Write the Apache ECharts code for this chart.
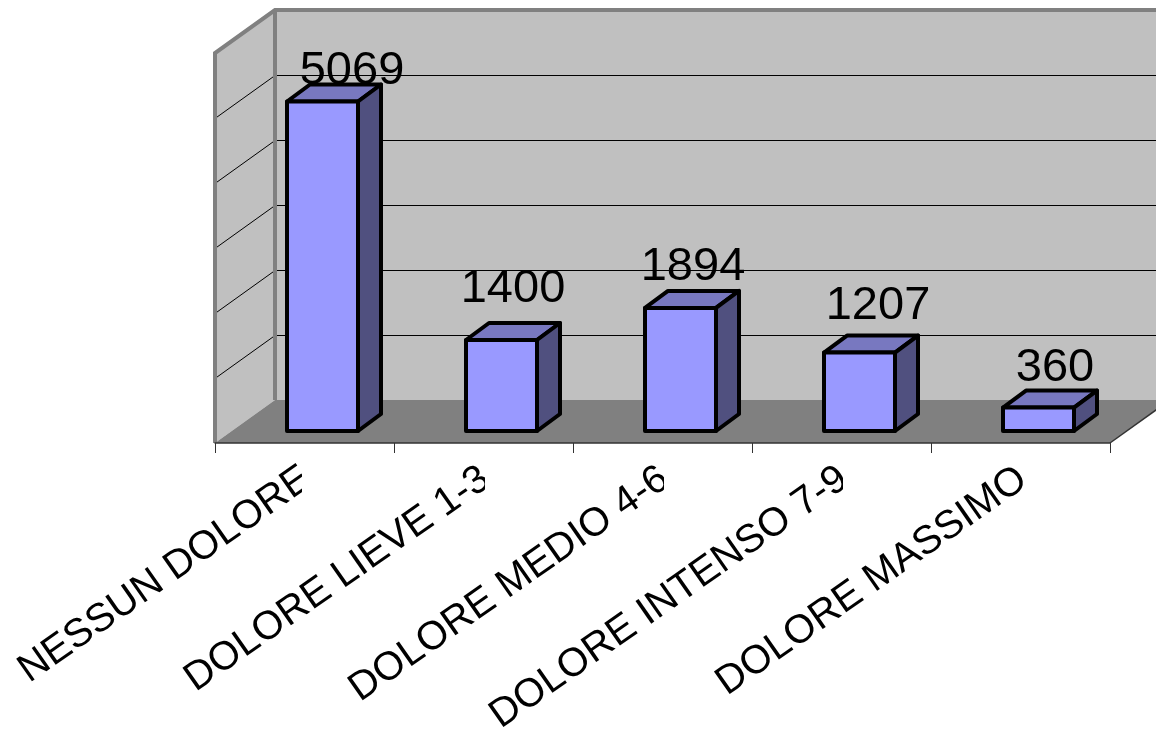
<!DOCTYPE html>
<html><head><meta charset="utf-8">
<style>html,body{margin:0;padding:0;background:#fff}#c{width:1156px;height:731px}</style>
<script src="https://cdn.jsdelivr.net/npm/echarts@6/dist/echarts.min.js"></script>
</head><body><div id="c"></div>
<script>
const categories = ['NESSUN DOLORE','DOLORE LIEVE 1-3','DOLORE MEDIO 4-6','DOLORE INTENSO 7-9','DOLORE MASSIMO'];
const values = [5069,1400,1894,1207,360];
const gridTicks = [1000,2000,3000,4000,5000];
const axisMax = 6000;
// styling constants
const DX = 60, DY = -43;          // plot depth
const BDX = 23, BDY = -17;        // bar depth
const FX = 18, FY = -12;          // bar front-plane offset
const BAR_W = 71;
const labelNudge = [[18,-13],[0,-34],[1,-24],[7,-29],[5,-23]];
const clipOffset = [-2.5,1.5,1.5,1.5,null];   // where the reference cuts the ends of the tick labels

const chart = echarts.init(document.getElementById('c'), null, {renderer:'canvas'});
const poly = (pts, fill, stroke, lw) => ({type:'polygon', shape:{points:pts},
  style:{fill:fill, stroke:stroke||null, lineWidth:lw||0, lineJoin:'round'}});
const line = (a,b,color,w) => ({type:'line', shape:{x1:a[0],y1:a[1],x2:b[0],y2:b[1]}, style:{stroke:color,lineWidth:w}});

function renderWalls(params, api){
  const band = api.size([1,0])[0];
  const c0 = api.coord([0,0]), c1 = api.coord([categories.length-1,0]), top = api.coord([0,axisMax]);
  const L = c0[0]-band/2, R = c1[0]+band/2, B = c0[1], T = top[1];
  const ch = [];
  ch.push(poly([[L+DX,T+DY],[R+DX,T+DY],[R+DX,B+DY],[L+DX,B+DY]],'#C0C0C0'));
  ch.push(poly([[L,T],[L+DX,T+DY],[L+DX,B+DY],[L,B]],'#C0C0C0'));
  gridTicks.forEach(v=>{
    const y = Math.round(api.coord([0,v])[1]) + 0.5;
    ch.push(line([L,y],[L+DX,y+DY],'#000',1));
    ch.push(line([L+DX,y+DY],[R+DX,y+DY],'#000',1));
  });
  ch.push(poly([[L,B],[L+DX,B+DY],[R+DX,B+DY],[R,B]],'#808080'));
  ch.push(line([R,B],[R+DX,B+DY],'#333',1.5));
  ch.push({type:'polyline',shape:{points:[[L,B],[L,T],[L+DX,T+DY],[R+DX,T+DY]]},style:{fill:null,stroke:'#808080',lineWidth:4}});
  ch.push(line([L+DX,T+DY],[L+DX,B+DY],'#808080',4));
  return {type:'group',children:ch};
}
function renderBar(params, api){
  const i = api.value(0), v = api.value(1);
  const c = api.coord([i,v]), o = api.coord([i,0]);
  const x0 = c[0]+FX-BAR_W/2, x1 = x0+BAR_W, yt = c[1]+FY, yb = o[1]+FY;
  const n = labelNudge[i];
  return {type:'group',children:[
    poly([[x0,yt],[x0+BDX,yt+BDY],[x1+BDX,yt+BDY],[x1,yt]],'#7878C0','#000',4),
    poly([[x1,yt],[x1+BDX,yt+BDY],[x1+BDX,yb+BDY],[x1,yb]],'#50507F','#000',4),
    poly([[x0,yt],[x1,yt],[x1,yb],[x0,yb]],'#9999FF','#000',4),
    {type:'text',z2:10,style:{text:String(v),x:(x0+x1+BDX)/2+n[0],y:yt+BDY+n[1],align:'center',verticalAlign:'middle',
      fontFamily:'"Liberation Sans",Arial,sans-serif',fontSize:47,fill:'#000'}}
  ]};
}
function renderClip(params, api){
  const i = api.value(0), off = clipOffset[i];
  if (off === null) return {type:'group',children:[]};
  const o = api.coord([i,0]);
  return {type:'rect',shape:{x:o[0]+off,y:o[1]+12,width:24,height:60},style:{fill:'#fff'}};
}
chart.setOption({
  animation:false,
  backgroundColor:'#fff',
  grid:{left:215,right:46,top:53,bottom:288,containLabel:false,outerBoundsMode:'none'},
  xAxis:{type:'category',data:categories,z:5,
    axisLine:{show:true,lineStyle:{color:'#333',width:1.5}},
    axisTick:{show:true,length:10,alignWithLabel:false,lineStyle:{color:'#333',width:1}},
    axisLabel:{interval:0,rotate:35,fontSize:40,color:'#000',margin:34,padding:[0,-3,0,0],hideOverlap:false,fontFamily:'"Liberation Sans",Arial,sans-serif'}},
  yAxis:{type:'value',min:0,max:axisMax,interval:1000,show:false,splitLine:{show:false}},
  series:[
    {type:'custom',z:1,clip:false,silent:true,renderItem:renderWalls,data:[[0,0]],encode:{x:0,y:1}},
    {type:'custom',z:3,clip:false,silent:true,renderItem:renderBar,data:values.map((v,i)=>[i,v]),encode:{x:0,y:1}},
    {type:'custom',z:6,clip:false,silent:true,renderItem:renderClip,data:categories.map((c,i)=>[i,0]),encode:{x:0,y:1}}
  ]
});
</script></body></html>
